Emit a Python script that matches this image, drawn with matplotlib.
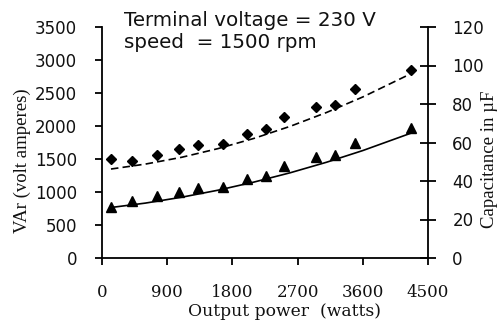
import matplotlib
matplotlib.use("Agg")
import matplotlib.pyplot as plt

# Measured points (output power in watts)
power = [124, 418, 755, 1067, 1321, 1666, 2006, 2264, 2512, 2950, 3220, 3497, 4261]
var_diamond = [1500, 1470, 1561, 1647, 1717, 1727, 1874, 1962, 2141, 2288, 2314, 2556, 2848]
var_triangle = [777, 868, 944, 995, 1056, 1080, 1197, 1247, 1398, 1535, 1561, 1747, 1965]

# Trend lines
trend_x = [124, 600, 1100, 1600, 2100, 2600, 3100, 3600, 4261]
trend_dashed = [1348, 1423, 1526, 1657, 1813, 1996, 2205, 2440, 2791]
trend_solid = [765, 832, 921, 1027, 1151, 1292, 1451, 1628, 1890]

x_ticks = [0, 900, 1800, 2700, 3600, 4500]
y_ticks = [0, 500, 1000, 1500, 2000, 2500, 3000, 3500]
y2_ticks = [0, 20, 40, 60, 80, 100, 120]

W, H = 502, 320
fig = plt.figure(figsize=(W/100, H/100), dpi=100)
ax = fig.add_axes([102/W, 1-258/H, 326/W, 231/H])

ax.plot(trend_x, trend_dashed, color="black", lw=1.2, ls=(0, (4.5, 2.5)))
ax.plot(trend_x, trend_solid, color="black", lw=1.2)
ax.plot(power, var_diamond, ls="none", marker="D", ms=5, color="black")
ax.plot(power, var_triangle, ls="none", marker="^", ms=7, color="black")

ax.set_xlim(0, 4500)
ax.set_ylim(0, 3500)
ax.set_xticks(x_ticks)
ax.set_yticks(y_ticks)
ax.spines["top"].set_visible(False)
ax.spines["right"].set_visible(False)
for s in ["left", "bottom"]:
    ax.spines[s].set_linewidth(1.3)

ax.tick_params(axis="y", direction="out", length=5, width=1.3, pad=13)
ax.tick_params(axis="x", direction="out", length=5, width=1.3, pad=13.5)
for lab in ax.get_xticklabels():
    lab.set_fontfamily("DejaVu Serif")
    lab.set_fontsize(12)
    lab.set_color("#111111")
for lab in ax.get_yticklabels():
    lab.set_fontfamily("DejaVu Sans")
    lab.set_fontsize(12)
    lab.set_color("#111111")

ax2 = ax.twinx()
ax2.set_ylim(0, 120)
ax2.set_yticks(y2_ticks)
for s in ["left", "top", "bottom"]:
    ax2.spines[s].set_visible(False)
ax2.spines["right"].set_linewidth(1.3)
ax2.tick_params(axis="y", direction="inout", length=11, width=1.3, pad=12)
for lab in ax2.get_yticklabels():
    lab.set_fontfamily("DejaVu Sans")
    lab.set_fontsize(12)
    lab.set_color("#111111")

# Axis titles placed in pixel positions
fig.text(285/W, 1-316.5/H, "Output power  (watts)", family="DejaVu Serif", fontsize=12.3,
         ha="center", va="baseline", color="#111111")
fig.text(22/W, 1-161/H, "VAr (volt amperes)", family="Liberation Serif", fontsize=13.5,
         rotation=90, ha="center", va="center", color="#111111")
fig.text(490/W, 1-159/H, "Capacitance in µF", family="Liberation Serif", fontsize=13.5,
         rotation=90, ha="center", va="center", color="#111111")

fig.text(124/W, 1-20/H, "Terminal voltage = 230 V", family="DejaVu Sans", fontsize=14.3,
         va="center", ha="left", color="#111111")
fig.text(124/W, 1-42/H, "speed  = 1500 rpm", family="DejaVu Sans", fontsize=14.3,
         va="center", ha="left", color="#111111")

fig.savefig("out.png", dpi=100)
